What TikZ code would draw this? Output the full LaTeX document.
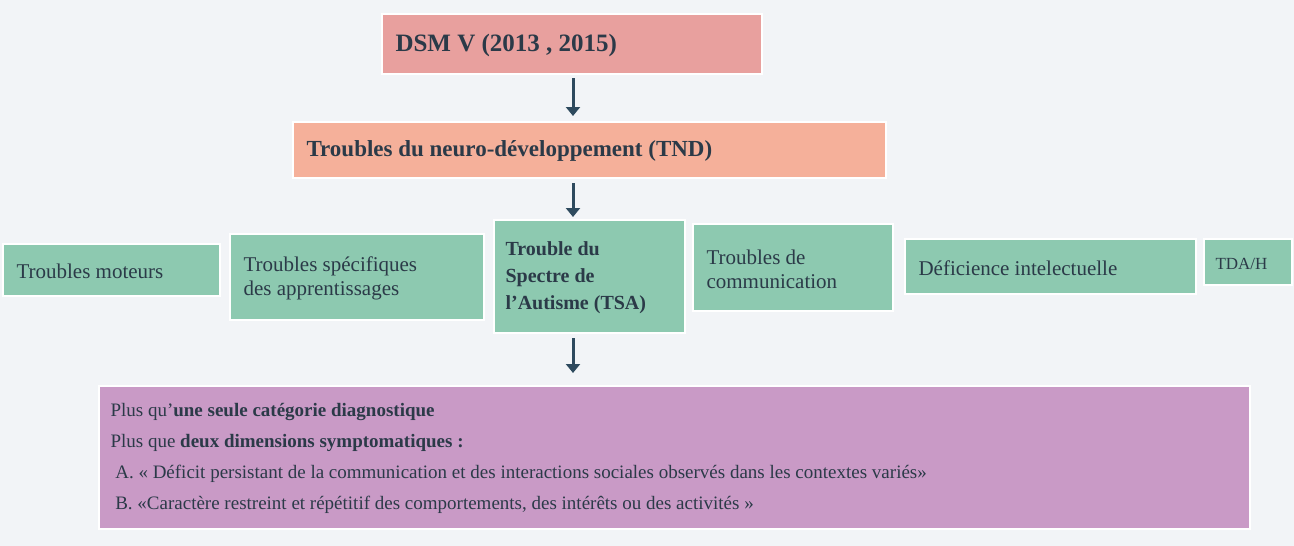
\documentclass[tikz,border=0pt]{standalone}
\usepackage{fontspec}
\setmainfont{Liberation Serif}
\usetikzlibrary{arrows.meta}
\definecolor{bg}{HTML}{F2F4F7}
\definecolor{ink}{HTML}{2B3A48}
\definecolor{arr}{HTML}{2E4A5E}
\definecolor{cdsm}{HTML}{E8A09E}
\definecolor{ctnd}{HTML}{F5B09A}
\definecolor{cgr}{HTML}{8DC9B0}
\definecolor{cpu}{HTML}{C99AC6}
\begin{document}
\begin{tikzpicture}[x=1pt,y=-1pt,
  box/.style={fill=#1,draw=white,line width=1.5pt,inner sep=0pt},
  arrowc/.style={arr,line width=3pt,-{Triangle[length=9pt,width=14pt]}},
  txt/.style={text=ink,font=\fontsize{21}{24}\selectfont,align=left,anchor=west}]
\fill[bg] (0,0) rectangle (1294,546);
\useasboundingbox (0,0) rectangle (1294,546);
\path[box=cdsm] (382,14) rectangle (762,74) node[midway] (dsm) {};
\node[txt,font=\fontsize{25}{28}\selectfont\bfseries] at (392,45) {DSM V (2013 , 2015)};
\path[box=ctnd] (293,122) rectangle (886,178);
\node[txt,font=\fontsize{23}{26}\selectfont\bfseries] at (303,151) {Troubles du neuro-développement (TND)};
\path[box=cgr] (3,244) rectangle (220,296);
\node[txt] at (13,271) {Troubles moteurs};
\path[box=cgr] (230,234) rectangle (484,320);
\node[txt] at (240,278) {Troubles spécifiques\\des apprentissages};
\path[box=cgr] (494,220) rectangle (685,333);
\node[txt,font=\fontsize{20}{27}\selectfont\bfseries] at (502,278) {Trouble du\\Spectre de\\l'Autisme (TSA)};
\path[box=cgr] (693,224) rectangle (893,311);
\node[txt] at (703,269) {Troubles de\\communication};
\path[box=cgr] (905,239) rectangle (1196,294);
\node[txt] at (915,268) {Déficience intelectuelle};
\path[box=cgr] (1204,239) rectangle (1292,285);
\node[txt,font=\fontsize{17}{20}\selectfont] at (1212,264) {TDA/H};
\path[box=cpu] (99,386) rectangle (1250,529);
\node[txt,font=\fontsize{19}{31}\selectfont] at (107,458) {Plus qu'\textbf{une seule catégorie diagnostique}\\Plus que \textbf{deux dimensions symptomatiques :}\\\ A. « Déficit persistant de la communication et des interactions sociales observés dans les contextes variés»\\\ B. «Caractère restreint et répétitif des comportements, des intérêts ou des activités »};
\coordinate (a1) at (573,78); \coordinate (a2) at (573,116);
\coordinate (b1) at (573,183); \coordinate (b2) at (573,217);
\coordinate (c1) at (573,338); \coordinate (c2) at (573,373);
\draw[arrowc] (a1) -- (a2);
\draw[arrowc] (b1) -- (b2);
\draw[arrowc] (c1) -- (c2);
\end{tikzpicture}
\end{document}
